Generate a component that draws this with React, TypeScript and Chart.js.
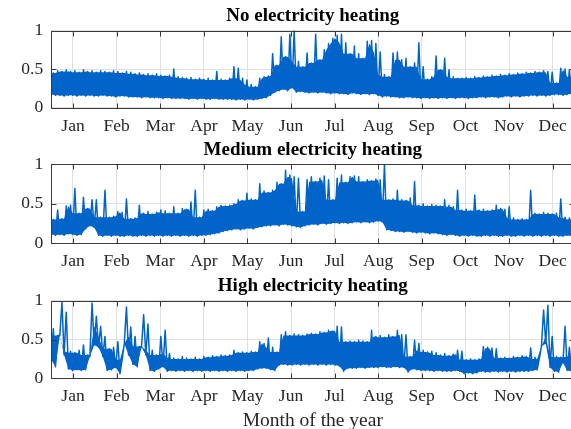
import { useEffect, useRef } from "react";
import Chart from "chart.js/auto";

// ---------- data ----------
// Lows are read at day 3*i, highs at day 3*i + 1.5 (one pair every 3 days).
const STEP_DAYS = 3;
const MONTHS = ["Jan", "Feb", "Mar", "Apr", "May", "Jun", "Jul", "Aug", "Sep", "Oct", "Nov", "Dec"];
const MONTH_TICK_DAYS = [15.2, 45.6, 76.0, 106.5, 136.9, 167.3, 197.7, 228.1, 258.5, 289.0, 319.4, 349.8];
const Y_TICKS = [0, 0.5, 1];
const Y_TICK_LABELS = ["0", "0.5", "1"];
const TITLES = ["No electricity heating", "Medium electricity heating", "High electricity heating"];
const X_LABEL = "Month of the year";

const NO_UPPER = [
  0.45, 0.48, 0.47, 0.49, 0.47, 0.48, 0.46, 0.49, 0.47, 0.48, 0.46,
  0.48, 0.47, 0.46, 0.48, 0.47, 0.45, 0.47, 0.46, 0.44,
  0.45, 0.43, 0.44, 0.42, 0.44, 0.42, 0.41, 0.42, 0.50, 0.40, 0.39,
  0.38, 0.39, 0.37, 0.38, 0.37, 0.38, 0.36, 0.47, 0.37, 0.36,
  0.38, 0.53, 0.51, 0.38, 0.36, 0.30, 0.27, 0.38, 0.40, 0.41,
  0.70, 0.55, 0.92, 0.66, 0.95, 1.0, 0.60, 0.53, 0.71, 0.58,
  0.95, 0.62, 0.75, 0.83, 0.90, 0.94, 0.95, 0.84, 0.70, 0.80,
  0.70, 0.64, 0.86, 0.87, 0.83, 0.72, 0.43, 0.40, 0.71, 0.72, 0.62,
  0.64, 0.53, 0.58, 0.84, 0.53, 0.37, 0.40, 0.67, 0.49, 0.64,
  0.49, 0.40, 0.38, 0.38, 0.39, 0.38, 0.40, 0.39, 0.41, 0.40,
  0.42, 0.41, 0.43, 0.42, 0.44, 0.43, 0.45, 0.44, 0.46, 0.45,
  0.47, 0.46, 0.48, 0.47, 0.46, 0.32, 0.51, 0.50, 0.49, 0.40,
];
const NO_LOWER = [
  0.17, 0.16, 0.16, 0.15, 0.16, 0.16, 0.15, 0.16, 0.15, 0.16, 0.15,
  0.15, 0.16, 0.15, 0.15, 0.14, 0.15, 0.15, 0.14, 0.14,
  0.14, 0.13, 0.14, 0.13, 0.13, 0.13, 0.12, 0.13, 0.12, 0.12, 0.12,
  0.12, 0.11, 0.12, 0.11, 0.12, 0.11, 0.11, 0.12, 0.11, 0.11,
  0.11, 0.11, 0.10, 0.11, 0.10, 0.11, 0.10, 0.11, 0.12, 0.13,
  0.16, 0.20, 0.22, 0.24, 0.22, 0.26, 0.20, 0.21, 0.20, 0.19,
  0.20, 0.19, 0.20, 0.19, 0.18, 0.19, 0.18, 0.18, 0.17, 0.19,
  0.18, 0.17, 0.18, 0.17, 0.18, 0.16, 0.14, 0.15, 0.14, 0.14, 0.13,
  0.13, 0.14, 0.13, 0.13, 0.12, 0.13, 0.12, 0.13, 0.12, 0.13,
  0.12, 0.13, 0.12, 0.13, 0.13, 0.12, 0.13, 0.13, 0.14, 0.13,
  0.14, 0.14, 0.13, 0.14, 0.15, 0.14, 0.15, 0.14, 0.15, 0.15,
  0.16, 0.15, 0.16, 0.15, 0.16, 0.17, 0.17, 0.16, 0.17, 0.18,
];

const MED_UPPER = [
  0.30, 0.42, 0.31, 0.47, 0.48, 0.69, 0.38, 0.58, 0.44, 0.55, 0.55,
  0.33, 0.67, 0.33, 0.34, 0.40, 0.39, 0.56, 0.31, 0.32,
  0.48, 0.38, 0.40, 0.37, 0.39, 0.42, 0.41, 0.38, 0.46, 0.38, 0.44,
  0.43, 0.52, 0.67, 0.33, 0.42, 0.43, 0.41, 0.46, 0.48, 0.47,
  0.48, 0.50, 0.55, 0.54, 0.63, 0.56, 0.55, 0.75, 0.66, 0.64,
  0.67, 0.77, 0.75, 0.92, 0.86, 0.84, 0.82, 0.40, 0.80, 0.84,
  0.78, 0.82, 0.85, 0.80, 0.55, 0.82, 0.86, 0.77, 0.84, 0.85,
  0.84, 0.78, 0.80, 0.79, 0.81, 0.80, 1.0, 0.55, 0.56, 0.67, 0.55,
  0.54, 0.57, 0.78, 0.48, 0.50, 0.47, 0.49, 0.48, 0.47, 0.55,
  0.48, 0.46, 0.67, 0.42, 0.43, 0.41, 0.61, 0.42, 0.43, 0.41,
  0.42, 0.48, 0.44, 0.43, 0.46, 0.32, 0.30, 0.31, 0.30, 0.67,
  0.38, 0.37, 0.39, 0.38, 0.37, 0.38, 0.56, 0.33, 0.32, 0.30,
];
const MED_LOWER = [
  0.11, 0.10, 0.11, 0.10, 0.12, 0.11, 0.10, 0.11, 0.18, 0.22, 0.20,
  0.10, 0.09, 0.10, 0.09, 0.10, 0.09, 0.09, 0.10, 0.09,
  0.09, 0.10, 0.09, 0.10, 0.09, 0.10, 0.09, 0.10, 0.09, 0.10, 0.09,
  0.10, 0.09, 0.10, 0.09, 0.10, 0.10, 0.11, 0.12, 0.13, 0.15,
  0.16, 0.17, 0.18, 0.17, 0.18, 0.19, 0.18, 0.20, 0.21, 0.22,
  0.22, 0.23, 0.22, 0.24, 0.23, 0.22, 0.21, 0.20, 0.22, 0.23,
  0.24, 0.23, 0.25, 0.24, 0.25, 0.26, 0.25, 0.26, 0.25, 0.26,
  0.27, 0.26, 0.27, 0.26, 0.27, 0.28, 0.27, 0.17, 0.16, 0.15, 0.15,
  0.14, 0.15, 0.14, 0.13, 0.14, 0.13, 0.12, 0.13, 0.12, 0.11,
  0.10, 0.11, 0.10, 0.09, 0.10, 0.09, 0.10, 0.09, 0.09, 0.10,
  0.09, 0.10, 0.09, 0.09, 0.10, 0.09, 0.09, 0.10, 0.09, 0.10,
  0.09, 0.10, 0.09, 0.10, 0.09, 0.10, 0.09, 0.09, 0.10, 0.09,
];

const HIGH_UPPER = [
  0.64, 0.55, 0.98, 0.85, 0.35, 0.33, 0.36, 0.43, 0.30, 0.97, 0.80,
  0.67, 0.54, 0.38, 0.40, 0.47, 0.24, 0.92, 0.66, 0.54,
  0.41, 0.82, 0.70, 0.36, 0.30, 0.54, 0.62, 0.32, 0.26, 0.25, 0.28,
  0.26, 0.25, 0.27, 0.25, 0.28, 0.27, 0.29, 0.28, 0.30, 0.29,
  0.30, 0.36, 0.33, 0.34, 0.33, 0.35, 0.34, 0.47, 0.45, 0.52,
  0.40, 0.34, 0.56, 0.60, 0.55, 0.57, 0.56, 0.55, 0.57, 0.58,
  0.57, 0.60, 0.59, 0.62, 0.61, 0.67, 0.66, 0.47, 0.48, 0.47,
  0.49, 0.48, 0.47, 0.62, 0.54, 0.55, 0.53, 0.56, 0.54, 0.62, 0.56,
  0.56, 0.28, 0.49, 0.45, 0.36, 0.34, 0.35, 0.33, 0.30, 0.32,
  0.29, 0.31, 0.36, 0.35, 0.24, 0.25, 0.24, 0.25, 0.41, 0.40,
  0.39, 0.38, 0.26, 0.27, 0.26, 0.28, 0.27, 0.29, 0.28, 0.39,
  0.27, 0.25, 0.88, 0.94, 0.54, 0.28, 0.27, 0.67, 0.40, 0.28,
];
const HIGH_LOWER = [
  0.24, 0.15, 0.55, 0.30, 0.12, 0.10, 0.11, 0.10, 0.11, 0.28, 0.43,
  0.40, 0.28, 0.10, 0.11, 0.14, 0.06, 0.45, 0.30, 0.18,
  0.15, 0.40, 0.30, 0.10, 0.09, 0.12, 0.15, 0.09, 0.10, 0.09, 0.10,
  0.09, 0.10, 0.09, 0.10, 0.09, 0.10, 0.09, 0.10, 0.09, 0.10,
  0.09, 0.10, 0.09, 0.10, 0.09, 0.10, 0.10, 0.12, 0.13, 0.13,
  0.11, 0.10, 0.17, 0.18, 0.17, 0.17, 0.18, 0.17, 0.18, 0.17,
  0.18, 0.17, 0.18, 0.17, 0.18, 0.17, 0.16, 0.09, 0.13, 0.13,
  0.13, 0.14, 0.13, 0.14, 0.14, 0.14, 0.15, 0.14, 0.14, 0.15, 0.14,
  0.14, 0.08, 0.12, 0.11, 0.10, 0.10, 0.10, 0.09, 0.10, 0.09,
  0.09, 0.09, 0.10, 0.09, 0.06, 0.07, 0.06, 0.07, 0.09, 0.08,
  0.08, 0.09, 0.08, 0.09, 0.08, 0.09, 0.08, 0.09, 0.09, 0.09,
  0.10, 0.11, 0.41, 0.45, 0.14, 0.09, 0.08, 0.20, 0.10, 0.09,
];

const SERIES = [
  { upper: NO_UPPER, lower: NO_LOWER },
  { upper: MED_UPPER, lower: MED_LOWER },
  { upper: HIGH_UPPER, lower: HIGH_LOWER },
];

// ---------- layout & style ----------
const CW = 580;
const CH = 440;
const PLOT_LEFT = 51.2;
const PLOT_RIGHT = 574.4;
const PANELS = [
  { top: 30.5, bottom: 107.7 },
  { top: 164, bottom: 243.3 },
  { top: 300.7, bottom: 378.3 },
];
const BLUE = "rgb(0,100,200)";
const GRID = "#e0e0e0";
const AXIS = "#3a3a3a";
const TEXT = "#262626";
const FONT = "'Liberation Serif', 'Times New Roman', serif";
const TITLE_SIZE = 19;
const TITLE_PAD_BOTTOM = 3;
const TICK_SIZE = 17.5;
const XLABEL_SIZE = 19.5;
const TICK_LEN = 5;
const LINE_W = 1.5;

const boxPlugin = {
  id: "matlabBox",
  afterDatasetsDraw(chart: any) {
    const { ctx, chartArea: a, scales } = chart;
    const L = Math.round(a.left) + 0.5;
    const R = Math.round(a.right) + 0.5;
    const T = Math.round(a.top) + 0.5;
    const B = Math.round(a.bottom) + 0.5;
    ctx.save();
    ctx.strokeStyle = AXIS;
    ctx.lineWidth = 1;
    ctx.beginPath();
    ctx.rect(L, T, R - L, B - T);
    MONTH_TICK_DAYS.forEach((d) => {
      const px = Math.round(scales.x.getPixelForValue(d)) + 0.5;
      ctx.moveTo(px, B);
      ctx.lineTo(px, B - TICK_LEN);
      ctx.moveTo(px, T);
      ctx.lineTo(px, T + TICK_LEN);
    });
    Y_TICKS.forEach((v) => {
      const py = Math.round(scales.y.getPixelForValue(v)) + 0.5;
      ctx.moveTo(L, py);
      ctx.lineTo(L + TICK_LEN, py);
      ctx.moveTo(R, py);
      ctx.lineTo(R - TICK_LEN, py);
    });
    ctx.stroke();
    ctx.restore();
  },
};

function makeConfig(k: number): any {
  const p = PANELS[k];
  const s = SERIES[k];
  const n = s.lower.length;
  // zig-zag trace: low at day 3i, high at day 3i + 1.5
  const trace = s.lower.flatMap((lo, i) => [
    { x: i * STEP_DAYS, y: lo },
    { x: i * STEP_DAYS + STEP_DAYS / 2, y: s.upper[i] },
  ]);
  // solid dense core: from the low to the lowest of the neighbouring highs
  const lowPts = s.lower.map((lo, i) => ({ x: i * STEP_DAYS, y: lo }));
  const corePts = s.lower.map((lo, i) => {
    const a = s.upper[Math.max(0, i - 1)];
    const b = s.upper[i];
    const c = s.upper[Math.min(n - 1, i + 1)];
    return { x: i * STEP_DAYS, y: Math.max(lo, Math.min(a, b, c)) };
  });
  const titleBox = TITLE_SIZE * 1.2 + TITLE_PAD_BOTTOM;
  return {
    type: "line",
    data: {
      datasets: [
        {
          data: lowPts,
          borderColor: BLUE,
          borderWidth: 0,
          pointRadius: 0,
          fill: false,
          tension: 0,
        },
        {
          data: corePts,
          borderColor: BLUE,
          backgroundColor: BLUE,
          borderWidth: 0,
          pointRadius: 0,
          fill: "-1",
          tension: 0,
        },
        {
          data: trace,
          borderColor: BLUE,
          borderWidth: LINE_W,
          borderJoinStyle: "round",
          pointRadius: 0,
          fill: false,
          tension: 0,
        },
      ],
    },
    options: {
      responsive: false,
      animation: false,
      events: [],
      layout: { padding: { left: 0, right: CW - PLOT_RIGHT, top: p.top - titleBox, bottom: 0 } },
      plugins: {
        legend: { display: false },
        tooltip: { enabled: false },
        title: {
          display: true,
          text: TITLES[k],
          fullSize: false,
          color: "#000",
          font: { family: FONT, size: TITLE_SIZE, weight: "bold", lineHeight: 1.2 },
          padding: { top: 0, bottom: TITLE_PAD_BOTTOM },
        },
      },
      scales: {
        x: {
          type: "linear",
          min: 0,
          max: 365,
          afterFit: (sc: any) => {
            sc.height = CH - p.bottom;
          },
          afterBuildTicks: (sc: any) => {
            sc.ticks = MONTH_TICK_DAYS.map((v) => ({ value: v }));
          },
          ticks: {
            autoSkip: false,
            maxRotation: 0,
            minRotation: 0,
            padding: 8,
            color: TEXT,
            font: { family: FONT, size: TICK_SIZE },
            callback: (_v: any, i: number) => MONTHS[i],
          },
          grid: { color: GRID, drawTicks: false },
          border: { display: false },
          title:
            k === 2
              ? {
                  display: true,
                  text: X_LABEL,
                  color: TEXT,
                  font: { family: FONT, size: XLABEL_SIZE, lineHeight: 1.2 },
                  padding: { top: 0, bottom: 7 },
                }
              : { display: false },
        },
        y: {
          min: 0,
          max: 1,
          afterFit: (sc: any) => {
            sc.width = PLOT_LEFT;
          },
          afterBuildTicks: (sc: any) => {
            sc.ticks = Y_TICKS.map((v) => ({ value: v }));
          },
          ticks: {
            padding: 8,
            color: TEXT,
            font: { family: FONT, size: TICK_SIZE },
            callback: (_v: any, i: number) => Y_TICK_LABELS[i],
          },
          grid: { color: GRID, drawTicks: false },
          border: { display: false },
        },
      },
    },
    plugins: [boxPlugin],
  };
}

export default function App() {
  const r0 = useRef<HTMLCanvasElement>(null);
  const r1 = useRef<HTMLCanvasElement>(null);
  const r2 = useRef<HTMLCanvasElement>(null);
  const refs = [r0, r1, r2];

  useEffect(() => {
    document.body.style.margin = "0";
    document.body.style.overflow = "hidden";
    const charts = refs.map((r, k) => new Chart(r.current as HTMLCanvasElement, makeConfig(k)));
    return () => charts.forEach((c) => c.destroy());
  }, []);

  return (
    <div style={{ position: "relative", width: 571, height: 429, overflow: "hidden", background: "#fff" }}>
      {refs.map((r, k) => (
        <canvas
          key={k}
          ref={r}
          width={CW}
          height={CH}
          style={{ position: "absolute", left: 0, top: 0, width: CW, height: CH }}
        />
      ))}
    </div>
  );
}
